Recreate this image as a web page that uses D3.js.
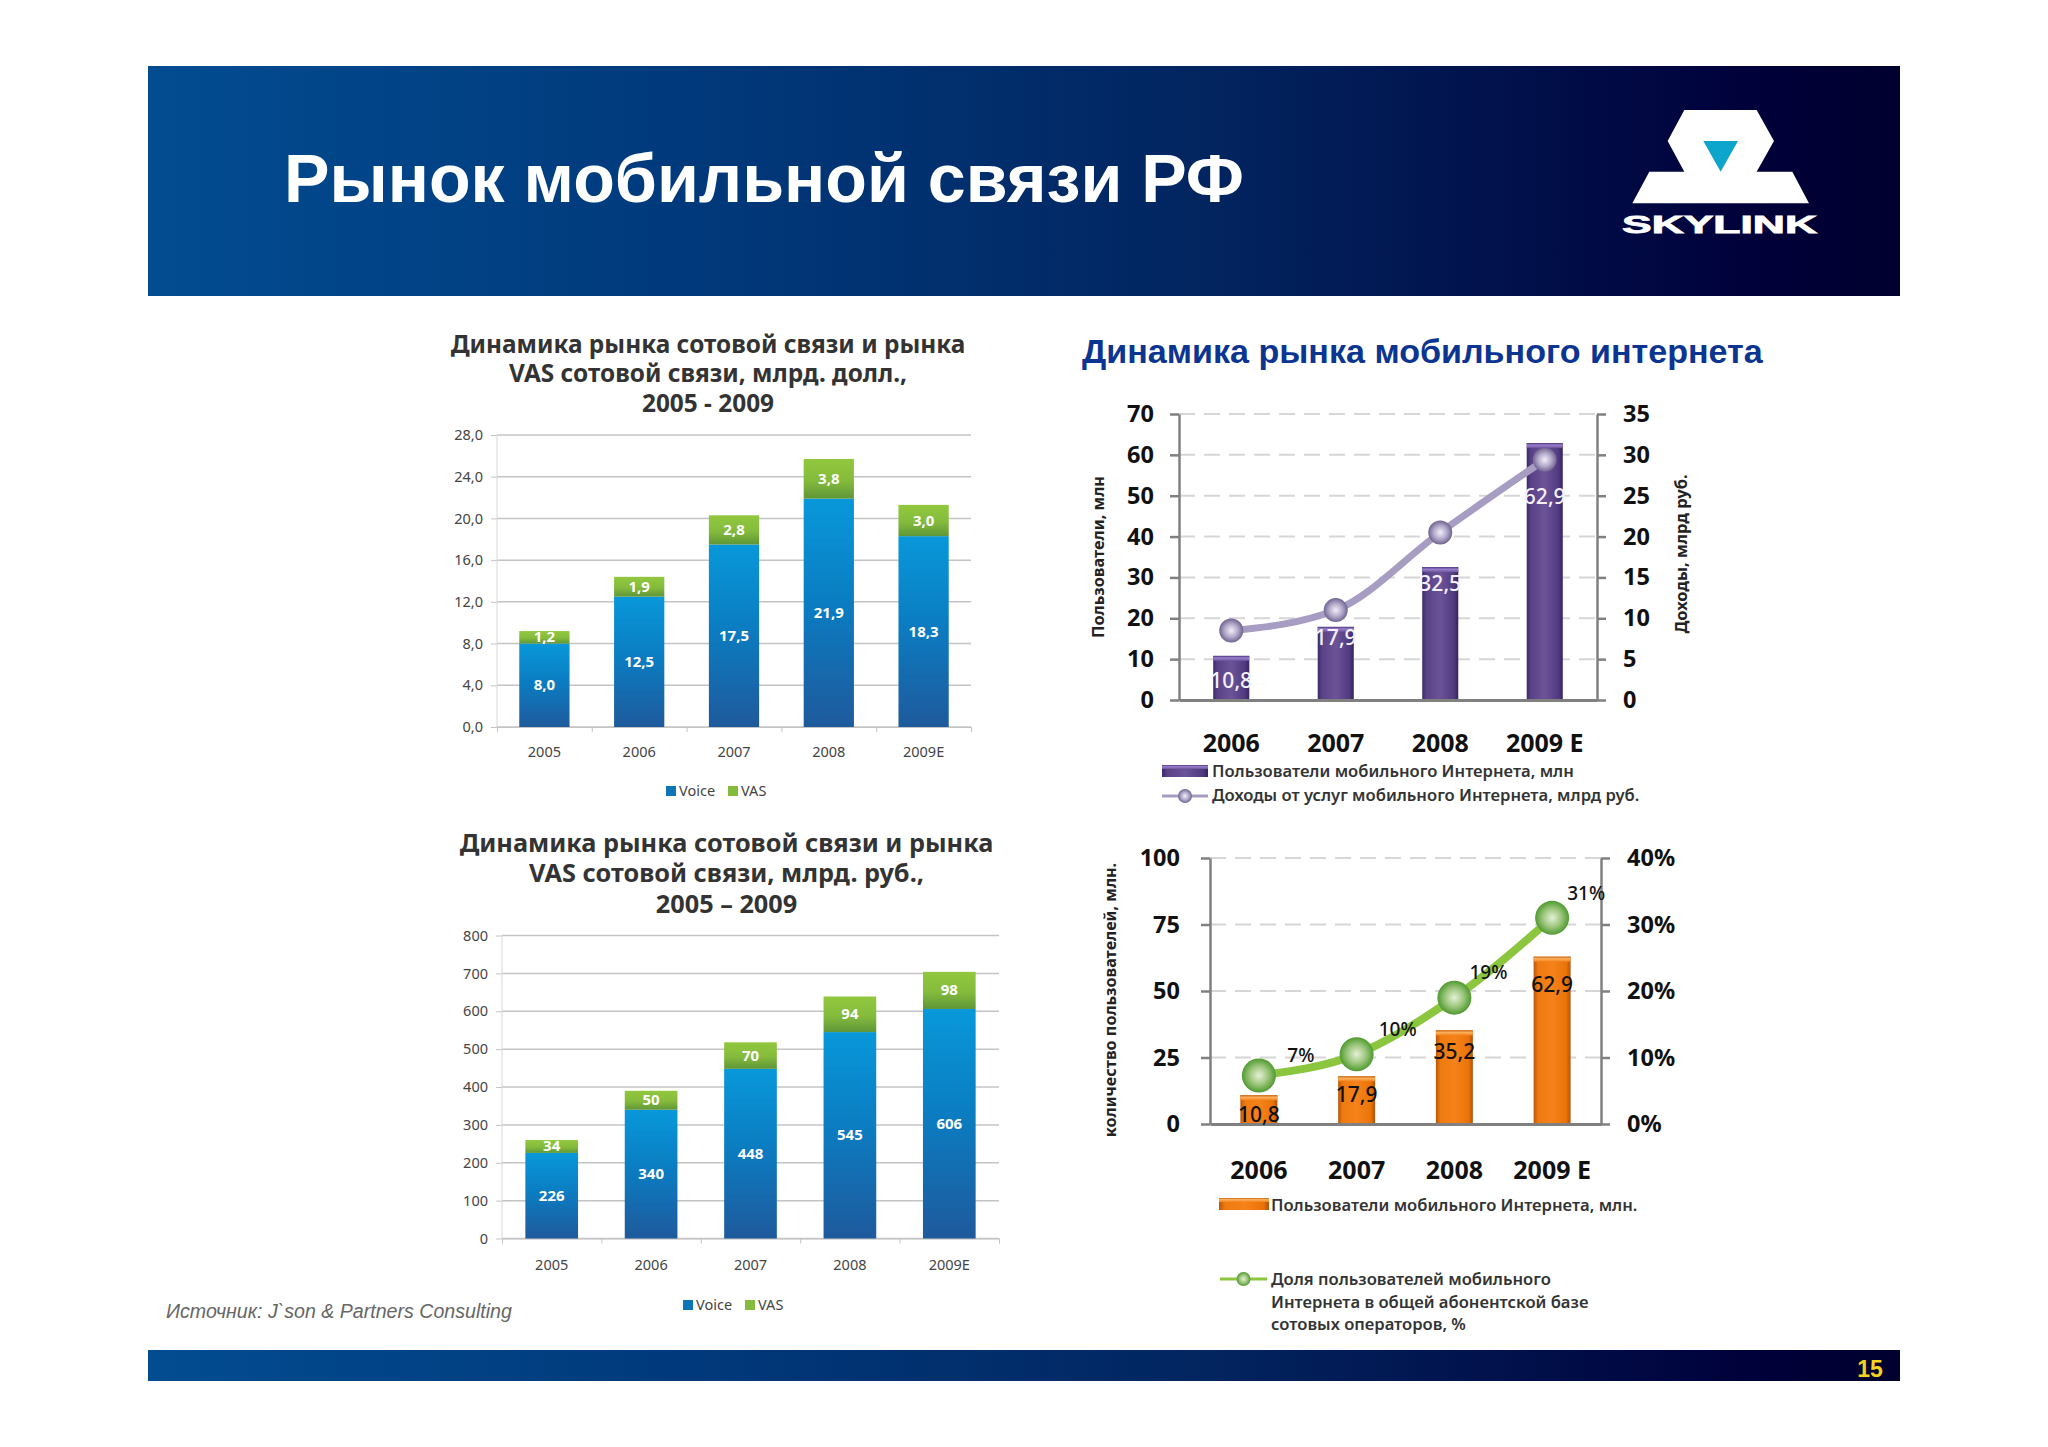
<!DOCTYPE html>
<html>
<head>
<meta charset="utf-8">
<script src="https://d3js.org/d3.v7.min.js"></script>
<style>
  body { margin: 0; background: #fff; }
  svg { display: block; }
  text { font-family: "Noto Sans", sans-serif; }
</style>
</head>
<body>
<div id="slide"></div>
<script>
// Stacked charts: market in USD and RUB
const stackYears = ["2005", "2006", "2007", "2008", "2009E"];
const usdVoice = [8.0, 12.5, 17.5, 21.9, 18.3];
const usdVas = [1.2, 1.9, 2.8, 3.8, 3.0];
const usdTicks = [0, 4, 8, 12, 16, 20, 24, 28];
const rubVoice = [226, 340, 448, 545, 606];
const rubVas = [34, 50, 70, 94, 98];
const rubTicks = [0, 100, 200, 300, 400, 500, 600, 700, 800];

// Mobile internet charts
const netYears = ["2006", "2007", "2008", "2009 E"];
const netUsers = [10.8, 17.9, 32.5, 62.9];
const netRevenue = [8.5, 11, 20.5, 29.4];
const netUsersTicks = [0, 10, 20, 30, 40, 50, 60, 70];
const netRevenueTicks = [0, 5, 10, 15, 20, 25, 30, 35];
const shareUsers = [10.8, 17.9, 35.2, 62.9];
const sharePercent = [7.3, 10.5, 19, 31];
const sharePercentLabels = ["7%", "10%", "19%", "31%"];
const shareUsersTicks = [0, 25, 50, 75, 100];
const sharePercentTicks = [0, 10, 20, 30, 40];

const slideWidth = 2048, slideHeight = 1447;

const svg = d3.select("#slide").append("svg")
    .attr("width", slideWidth)
    .attr("height", slideHeight);
const defs = svg.append("defs");

function linearGradient(id, x2, y2, stops) {
    const g = defs.append("linearGradient").attr("id", id)
        .attr("x1", 0).attr("y1", 0).attr("x2", x2).attr("y2", y2);
    stops.forEach(s => g.append("stop").attr("offset", s[0]).attr("stop-color", s[1]));
}

function radialGradient(id, stops) {
    const g = defs.append("radialGradient").attr("id", id);
    stops.forEach(s => g.append("stop").attr("offset", s[0]).attr("stop-color", s[1]));
}

linearGradient("band", 1, 0, [[0, "#024c90"], [0.3, "#003a7c"], [0.6, "#022560"], [0.92, "#00003a"], [1, "#00002e"]]);
linearGradient("voice", 0, 1, [[0, "#0898da"], [0.45, "#0b7dc2"], [1, "#1e5a9c"]]);
linearGradient("vas", 0, 1, [[0, "#92c83e"], [0.55, "#84bb3c"], [1, "#5f9638"]]);
linearGradient("purple", 1, 0, [[0, "#3c2a68"], [0.12, "#5a4288"], [0.5, "#6c5398"], [0.88, "#513a80"], [1, "#35245f"]]);
linearGradient("purpleTop", 0, 1, [[0, "#4a3478"], [0.4, "#9a80d0"], [1, "#6c5398"]]);
linearGradient("orange", 1, 0, [[0, "#b9560a"], [0.12, "#ee7a10"], [0.5, "#f5821a"], [0.88, "#ea7408"], [1, "#b3520a"]]);
linearGradient("orangeTop", 0, 1, [[0, "#c9620c"], [0.4, "#fbb060"], [1, "#f5821a"]]);
radialGradient("purpleDot", [[0, "#f2eff8"], [0.55, "#b4aacb"], [1, "#6f648f"]]);
radialGradient("greenDot", [[0, "#e6f0d8"], [0.55, "#9cc67c"], [1, "#4f9a30"]]);

// Header and footer bands
svg.append("rect").attr("x", 148).attr("y", 66).attr("width", 1752).attr("height", 230).attr("fill", "url(#band)");
svg.append("rect").attr("x", 148).attr("y", 1350).attr("width", 1752).attr("height", 31).attr("fill", "url(#band)");

svg.append("text")
    .attr("x", 284).attr("y", 202)
    .attr("fill", "#fff")
    .style("font-family", "'Liberation Sans'")
    .style("font-weight", "bold")
    .style("font-size", "68.2px")
    .text("Рынок мобильной связи РФ");

svg.append("text")
    .attr("x", 1870).attr("y", 1377)
    .attr("text-anchor", "middle")
    .attr("fill", "#f5d21e")
    .style("font-family", "'Liberation Sans'")
    .style("font-weight", "bold")
    .style("font-size", "23px")
    .text("15");

// Logo
const logo = svg.append("g").attr("transform", "translate(1600,90) scale(0.3333)");
logo.append("polygon")
    .attr("points", "253,60 470,60 522,153 470,245 577,245 627,340 97,340 148,245 253,245 203,153")
    .attr("fill", "#fff");
logo.append("polygon")
    .attr("points", "310,153 414,153 362,245")
    .attr("fill", "#0ea5cc");
svg.append("text")
    .attr("x", 1622).attr("y", 233)
    .attr("textLength", 195)
    .attr("lengthAdjust", "spacingAndGlyphs")
    .attr("fill", "#fff")
    .attr("stroke", "#fff")
    .attr("stroke-width", 0.8)
    .style("font-family", "'Liberation Sans'")
    .style("font-weight", "bold")
    .style("font-size", "23px")
    .text("SKYLINK");

svg.append("text")
    .attr("x", 1082).attr("y", 363)
    .attr("fill", "#0c3592")
    .style("font-family", "'Liberation Sans'")
    .style("font-weight", "bold")
    .style("font-size", "34.1px")
    .text("Динамика рынка мобильного интернета");

svg.append("text")
    .attr("x", 166).attr("y", 1318)
    .attr("fill", "#666")
    .style("font-family", "'Liberation Sans'")
    .style("font-style", "italic")
    .style("font-size", "19.6px")
    .text("Источник: J`son & Partners Consulting");

// Stacked bars of Voice and VAS with a title above and a legend below
function drawStacked(o) {
    const x = d3.scaleBand().domain(stackYears).range([o.left, o.right]).paddingInner(0.47).paddingOuter(0.235);
    const y = d3.scaleLinear().domain([0, o.max]).range([o.bottom, o.top]);
    const edges = d3.scaleLinear().domain([0, stackYears.length]).range([o.left, o.right]);

    o.title.forEach((line, i) => {
        svg.append("text")
            .attr("x", o.titleX).attr("y", o.titleY[i])
            .attr("text-anchor", "middle")
            .attr("fill", "#333")
            .style("font-weight", "bold")
            .style("font-size", o.titleSize + "px")
            .text(line);
    });

    const yAxis = svg.append("g")
        .attr("transform", `translate(${o.left},0)`)
        .call(d3.axisLeft(y).tickValues(o.ticks).tickFormat(o.format).tickSize(6).tickPadding(8));
    yAxis.selectAll("line").attr("stroke", "#c4c4c4");
    yAxis.select(".domain").remove();
    yAxis.selectAll("text").attr("fill", "#444").style("font-size", "14.5px").style("font-family", "'Noto Sans'");

    svg.append("g").selectAll("line").data(o.ticks).enter().append("line")
        .attr("x1", o.left).attr("x2", o.right)
        .attr("y1", d => y(d)).attr("y2", d => y(d))
        .attr("stroke", "#c4c4c4").attr("stroke-width", 1.5);
    svg.append("line")
        .attr("x1", o.left).attr("x2", o.left).attr("y1", o.top).attr("y2", o.bottom)
        .attr("stroke", "#d8d8d8");

    // outer ticks sit between the bars
    const xTicks = svg.append("g")
        .attr("transform", `translate(0,${o.bottom})`)
        .call(d3.axisBottom(edges).ticks(stackYears.length).tickFormat("").tickSize(5));
    xTicks.selectAll("line").attr("stroke", "#c4c4c4");
    xTicks.select(".domain").attr("stroke", "#c4c4c4");

    const xAxis = svg.append("g")
        .attr("transform", `translate(0,${o.bottom})`)
        .call(d3.axisBottom(x).tickSize(0).tickPadding(o.xPad));
    xAxis.select(".domain").remove();
    xAxis.selectAll("text").attr("fill", "#444").style("font-size", "14.5px").style("font-family", "'Noto Sans'");

    stackYears.forEach((year, i) => {
        const voice = o.voice[i], vas = o.vas[i];
        svg.append("rect")
            .attr("x", x(year)).attr("width", x.bandwidth())
            .attr("y", y(voice)).attr("height", y(0) - y(voice))
            .attr("fill", "url(#voice)");
        svg.append("rect")
            .attr("x", x(year)).attr("width", x.bandwidth())
            .attr("y", y(voice + vas)).attr("height", y(voice) - y(voice + vas))
            .attr("fill", "url(#vas)");
        svg.append("text")
            .attr("x", x(year) + x.bandwidth() / 2).attr("y", y(voice / 2) + 5)
            .attr("text-anchor", "middle").attr("fill", "#fff")
            .style("font-weight", "bold").style("font-size", "15px")
            .text(o.format(voice));
        svg.append("text")
            .attr("x", x(year) + x.bandwidth() / 2).attr("y", y(voice + vas / 2) + 5)
            .attr("text-anchor", "middle").attr("fill", "#fff")
            .style("font-weight", "bold").style("font-size", "15px")
            .text(o.format(vas));
    });

    [["Voice", "#0d74b8", o.legendX], ["VAS", "#84bb3c", o.legendX + 62]].forEach(d => {
        svg.append("rect")
            .attr("x", d[2]).attr("y", o.legendY - 5).attr("width", 10).attr("height", 10)
            .attr("fill", d[1]);
        svg.append("text")
            .attr("x", d[2] + 13).attr("y", o.legendY + 5)
            .attr("fill", "#444").style("font-size", "14.5px")
            .text(d[0]);
    });
}

const commaOne = d => d.toFixed(1).replace(".", ",");

drawStacked({
    title: ["Динамика рынка сотовой связи и рынка", "VAS сотовой связи, млрд. долл.,", "2005 - 2009"],
    titleX: 708, titleY: [353, 382, 412], titleSize: 24.4,
    left: 497, right: 971, top: 435, bottom: 727, max: 28,
    ticks: usdTicks, voice: usdVoice, vas: usdVas, format: commaOne, xPad: 20,
    legendX: 666, legendY: 791
});

drawStacked({
    title: ["Динамика рынка сотовой связи и рынка", "VAS сотовой связи, млрд. руб.,", "2005 – 2009"],
    titleX: 726.5, titleY: [852, 882, 913], titleSize: 25.3,
    left: 502, right: 999, top: 935.5, bottom: 1238.5, max: 800,
    ticks: rubTicks, voice: rubVoice, vas: rubVas, format: d => String(d), xPad: 21,
    legendX: 683, legendY: 1305
});

// Bars on the left axis, a smooth line with round markers on the right axis
function drawCombo(o) {
    const x = d3.scaleBand().domain(netYears).range([o.left, o.right]).paddingInner(o.gap).paddingOuter(o.gap / 2);
    const yLeft = d3.scaleLinear().domain(d3.extent(o.leftTicks)).range([o.bottom, o.top]);
    const yRight = d3.scaleLinear().domain(d3.extent(o.rightTicks)).range([o.bottom, o.top]);
    const cx = d => x(d) + x.bandwidth() / 2;

    svg.append("g").selectAll("line").data(o.leftTicks.slice(1)).enter().append("line")
        .attr("x1", o.left).attr("x2", o.right)
        .attr("y1", d => yLeft(d)).attr("y2", d => yLeft(d))
        .attr("stroke", "#d6d6d6").attr("stroke-width", 2).attr("stroke-dasharray", "16 9");

    function styleAxis(g) {
        g.selectAll("line").attr("stroke", "#808080").attr("stroke-width", 2.5);
        g.select(".domain").attr("stroke", "#808080").attr("stroke-width", 2.5);
        g.selectAll("text").attr("fill", "#111")
            .style("font-family", "'Noto Sans'").style("font-weight", "bold").style("font-size", "23.5px");
    }

    svg.append("g")
        .attr("transform", `translate(${o.left},0)`)
        .call(d3.axisLeft(yLeft).tickValues(o.leftTicks).tickSize(9).tickSizeOuter(0).tickPadding(o.tickPadLeft).tickFormat(d => d))
        .call(styleAxis);
    svg.append("g")
        .attr("transform", `translate(${o.right},0)`)
        .call(d3.axisRight(yRight).tickValues(o.rightTicks).tickSize(9).tickSizeOuter(0).tickPadding(o.tickPadRight).tickFormat(o.rightFormat))
        .call(styleAxis);

    const xAxis = svg.append("g")
        .attr("transform", `translate(0,${o.bottom})`)
        .call(d3.axisBottom(x).tickSize(0).tickPadding(o.xPad));
    xAxis.select(".domain").attr("stroke", "#808080").attr("stroke-width", 3);
    xAxis.selectAll("text").attr("fill", "#111")
        .style("font-family", "'Noto Sans'").style("font-weight", "bold").style("font-size", "25px");

    netYears.forEach((year, i) => {
        svg.append("rect")
            .attr("x", x(year)).attr("width", x.bandwidth())
            .attr("y", yLeft(o.bars[i])).attr("height", yLeft(0) - yLeft(o.bars[i]) - 1)
            .attr("fill", `url(#${o.barFill})`);
        svg.append("rect")
            .attr("x", x(year)).attr("width", x.bandwidth())
            .attr("y", yLeft(o.bars[i])).attr("height", 5)
            .attr("fill", `url(#${o.barFill}Top)`);
    });

    const line = d3.line()
        .x(d => cx(d.year))
        .y(d => yRight(d.value))
        .curve(d3.curveMonotoneX);
    const points = netYears.map((year, i) => ({year: year, value: o.line[i]}));

    svg.append("path")
        .attr("d", line(points))
        .attr("fill", "none")
        .attr("stroke", o.lineColor)
        .attr("stroke-width", o.lineWidth);

    svg.append("g").selectAll("circle").data(points).enter().append("circle")
        .attr("cx", d => cx(d.year))
        .attr("cy", d => yRight(d.value))
        .attr("r", o.dotRadius)
        .attr("fill", `url(#${o.dotFill})`);

    netYears.forEach((year, i) => {
        svg.append("text")
            .attr("x", cx(year)).attr("y", yLeft(o.bars[i]) + o.barLabelDy[i])
            .attr("text-anchor", "middle")
            .attr("fill", o.barLabelColor)
            .style("font-weight", "500").style("font-size", "21px")
            .text(commaOne(o.bars[i]));
    });

    o.axisTitles.forEach(t => {
        svg.append("text")
            .attr("transform", `translate(${t.x},${t.y}) rotate(-90)`)
            .attr("text-anchor", "middle")
            .attr("fill", "#222")
            .style("font-weight", "bold").style("font-size", t.size + "px")
            .text(t.text);
    });
}

drawCombo({
    left: 1179, right: 1597, top: 414, bottom: 700, gap: 0.655,
    leftTicks: netUsersTicks, rightTicks: netRevenueTicks, rightFormat: d => d,
    tickPadLeft: 16, tickPadRight: 17, xPad: 34,
    bars: netUsers, barFill: "purple", barLabelColor: "#f4f0fa", barLabelDy: [32, 18, 24, 61],
    line: netRevenue, lineColor: "#a79dc2", lineWidth: 7, dotRadius: 12, dotFill: "purpleDot",
    axisTitles: [
        {x: 1104, y: 557, size: 16.3, text: "Пользователи, млн"},
        {x: 1687, y: 554, size: 16.5, text: "Доходы, млрд руб."}
    ]
});

drawCombo({
    left: 1210, right: 1601, top: 858, bottom: 1124, gap: 0.622,
    leftTicks: shareUsersTicks, rightTicks: sharePercentTicks, rightFormat: d => d + "%",
    tickPadLeft: 21, tickPadRight: 17, xPad: 37,
    bars: shareUsers, barFill: "orange", barLabelColor: "#111", barLabelDy: [27, 26, 29, 35],
    line: sharePercent, lineColor: "#8cc63f", lineWidth: 8, dotRadius: 17, dotFill: "greenDot",
    axisTitles: [
        {x: 1116, y: 1000, size: 16.2, text: "количество пользователей, млн."}
    ]
});

// percent labels beside the green line
const shareX = d3.scaleBand().domain(netYears).range([1210, 1601]).paddingInner(0.622).paddingOuter(0.311);
const shareY = d3.scaleLinear().domain([0, 40]).range([1124, 858]);
const shareLabelOffset = [[42, -13], [41, -18], [34, -19], [34, -18]];
netYears.forEach((year, i) => {
    svg.append("text")
        .attr("x", shareX(year) + shareX.bandwidth() / 2 + shareLabelOffset[i][0])
        .attr("y", shareY(sharePercent[i]) + shareLabelOffset[i][1])
        .attr("text-anchor", "middle")
        .attr("fill", "#111")
        .style("font-weight", "500").style("font-size", "19px")
        .text(sharePercentLabels[i]);
});

// Legends of the two right charts
function barSwatch(xPos, yPos, w, h, fill) {
    svg.append("rect").attr("x", xPos).attr("y", yPos).attr("width", w).attr("height", h).attr("fill", `url(#${fill})`);
    svg.append("rect").attr("x", xPos).attr("y", yPos).attr("width", w).attr("height", 4).attr("fill", `url(#${fill}Top)`);
}

function lineSwatch(x1, x2, yPos, color, dot) {
    svg.append("line").attr("x1", x1).attr("x2", x2).attr("y1", yPos).attr("y2", yPos)
        .attr("stroke", color).attr("stroke-width", 3);
    svg.append("circle").attr("cx", (x1 + x2) / 2).attr("cy", yPos).attr("r", 7).attr("fill", `url(#${dot})`);
}

function legendText(xPos, yPos, text) {
    svg.append("text")
        .attr("x", xPos).attr("y", yPos)
        .attr("fill", "#333")
        .style("font-weight", "600").style("font-size", "16.6px")
        .text(text);
}

barSwatch(1162, 765, 46, 12, "purple");
legendText(1212, 777, "Пользователи мобильного Интернета, млн");
lineSwatch(1162, 1208, 796, "#a79dc2", "purpleDot");
legendText(1212, 801, "Доходы от услуг мобильного Интернета, млрд руб.");

barSwatch(1219, 1198, 50, 12, "orange");
legendText(1271, 1211, "Пользователи мобильного Интернета, млн.");
lineSwatch(1220, 1267, 1279, "#8cc63f", "greenDot");
legendText(1271, 1285, "Доля пользователей мобильного");
legendText(1271, 1308, "Интернета в общей абонентской базе");
legendText(1271, 1330, "сотовых операторов, %");
</script>
</body>
</html>
